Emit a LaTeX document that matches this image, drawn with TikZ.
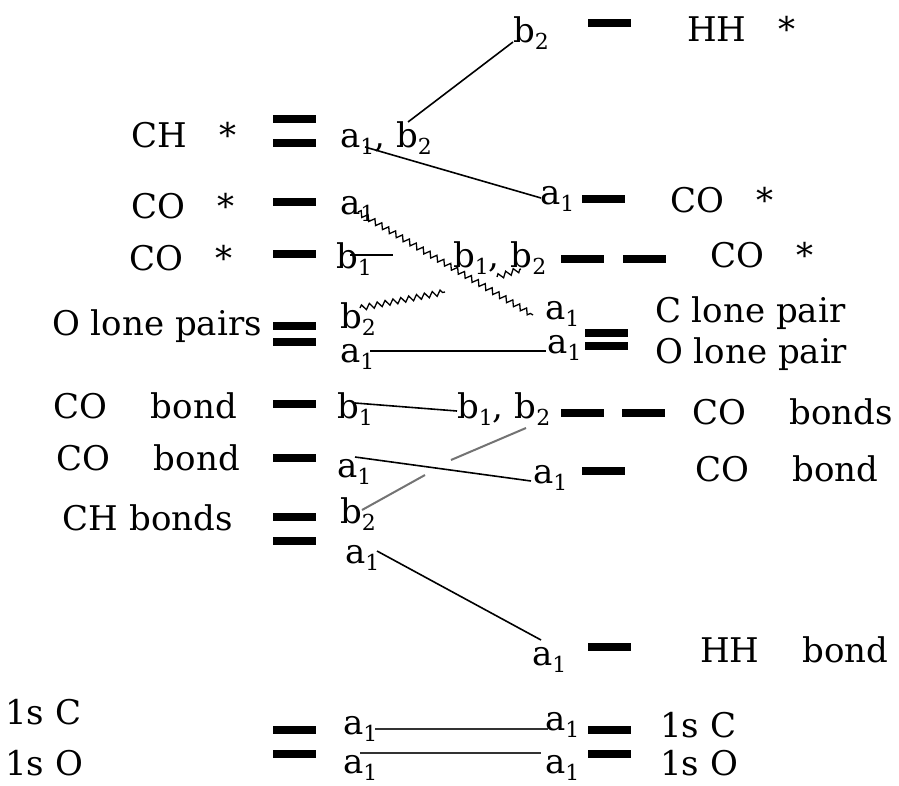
\documentclass[tikz,border=0pt]{standalone}
\usepackage{fontspec}
\setmainfont{DejaVu Serif}
\usetikzlibrary{decorations.pathmorphing}
\newcommand{\irr}[2]{#1\raisebox{-7pt}{\fontsize{22}{22}\selectfont #2}}

\begin{document}
\begin{tikzpicture}[x=1pt, y=-1pt,
  lvl/.style={fill=black, inner sep=0pt, minimum width=43pt, minimum height=8pt},
  sym/.style={inner sep=0pt, anchor=base west, font=\fontsize{34}{40}\selectfont},
  lbl/.style={inner sep=0pt, font=\fontsize{34}{40}\selectfont},
  ln/.style={line width=1.6pt},
  sln/.style={line width=1.6pt, black!80},
  zz/.style={line width=1.3pt, decorate,
             decoration={zigzag, segment length=8pt, amplitude=2.8pt}},
  gln/.style={line width=2pt, black!55},
]
\path[use as bounding box, fill=white] (0,0) rectangle (899,785);

% Left levels
\node[lvl] (lCHs1) at (294.5,118.5) {};
\node[lvl] (lCHs2) at (294.5,143) {};
\node[lvl] (lCOs1) at (294.5,201.5) {};
\node[lvl] (lCOs2) at (294.5,254) {};
\node[lvl] (lLP1)  at (294.5,325.5) {};
\node[lvl] (lLP2)  at (294.5,341.5) {};
\node[lvl] (lB1)   at (294.5,404) {};
\node[lvl] (lB2)   at (294.5,458) {};
\node[lvl] (lCHb1) at (294.5,516.5) {};
\node[lvl] (lCHb2) at (294.5,540.5) {};
\node[lvl] (l1sC)  at (294.5,730) {};
\node[lvl] (l1sO)  at (294.5,753.5) {};

% Right levels
\node[lvl] (rHHs)  at (609.5,23) {};
\node[lvl] (rCOs1) at (603.5,199) {};
\node[lvl] (rCOs2) at (582.5,258.5) {};
\node[lvl] (rCOs3) at (644,258.5) {};
\node[lvl] (rLP1)  at (606.5,333) {};
\node[lvl] (rLP2)  at (606.5,346) {};
\node[lvl] (rB1)   at (582,413) {};
\node[lvl] (rB2)   at (643.5,413) {};
\node[lvl] (rB3)   at (603.5,471) {};
\node[lvl] (rHHb)  at (609,647) {};
\node[lvl] (r1sC)  at (609,730) {};
\node[lvl] (r1sO)  at (609,754) {};

% Left names
\node[lbl, anchor=base east] (nCHs)  at (237,147) {CH~~~*};
\node[lbl, anchor=base east] (nCOs1) at (235,218) {CO~~~*};
\node[lbl, anchor=base east] (nCOs2) at (233,270) {CO~~~*};
\node[lbl, anchor=base east] (nLP)   at (262,335) {O lone pairs};
\node[lbl, anchor=base east] (nB1)   at (237,418) {CO~~~~bond};
\node[lbl, anchor=base east] (nB2)   at (240,470) {CO~~~~bond};
\node[lbl, anchor=base east] (nCHb)  at (233,530) {CH bonds};
\node[lbl, anchor=base west] (n1sC)  at (5,724) {1s C};
\node[lbl, anchor=base west] (n1sO)  at (5,775) {1s O};

% Right names
\node[lbl, anchor=base west] (mHHs)  at (687,41)  {HH~~~*};
\node[lbl, anchor=base west] (mCOs1) at (670,212) {CO~~~*};
\node[lbl, anchor=base west] (mCOs2) at (710,267) {CO~~~*};
\node[lbl, anchor=base west] (mLPc)  at (655,322) {C lone pair};
\node[lbl, anchor=base west] (mLPo)  at (655,363) {O lone pair};
\node[lbl, anchor=base west] (mB1)   at (692,424) {CO~~~~bonds};
\node[lbl, anchor=base west] (mB2)   at (695,481) {CO~~~~bond};
\node[lbl, anchor=base west] (mHHb)  at (700,662) {HH~~~~bond};
\node[lbl, anchor=base west] (m1sC)  at (660,737) {1s C};
\node[lbl, anchor=base west] (m1sO)  at (660,775) {1s O};

% Left symmetry labels
\node[sym] (sCHs)  at (340,147) {\irr{a}{1}, \irr{b}{2}};
\node[sym] (sCOs1) at (340,214) {\irr{a}{1}};
\node[sym] (sCOs2) at (336,268) {\irr{b}{1}};
\node[sym] (sLPb)  at (340,328) {\irr{b}{2}};
\node[sym] (sLPa)  at (340,362) {\irr{a}{1}};
\node[sym] (sB1)   at (337,418) {\irr{b}{1}};
\node[sym] (sB2)   at (337,477) {\irr{a}{1}};
\node[sym] (sCHbb) at (340,523) {\irr{b}{2}};
\node[sym] (sCHba) at (345,563) {\irr{a}{1}};
\node[sym] (s1sC)  at (343,734) {\irr{a}{1}};
\node[sym] (s1sO)  at (343,773) {\irr{a}{1}};

% Right symmetry labels
\node[sym] (tHHs)  at (513,42)  {\irr{b}{2}};
\node[sym] (tCOs1) at (540,204) {\irr{a}{1}};
\node[sym] (tCOs2) at (453,267) {\irr{b}{1}, \irr{b}{2}};
\node[sym] (tLPc)  at (545,319) {\irr{a}{1}};
\node[sym] (tLPo)  at (547,353) {\irr{a}{1}};
\node[sym] (tB1)   at (457,418) {\irr{b}{1}, \irr{b}{2}};
\node[sym] (tB2)   at (533,483) {\irr{a}{1}};
\node[sym] (tHHb)  at (532,665) {\irr{a}{1}};
\node[sym] (t1sC)  at (545,730) {\irr{a}{1}};
\node[sym] (t1sO)  at (545,773) {\irr{a}{1}};

% Connector ends
\coordinate (cCHb)   at (408,122);
\coordinate (cCHa)   at (365,147);
\coordinate (cCOa1)  at (541,198);
\coordinate (cCOa)   at (358,212);
\coordinate (cLPc)   at (533,315);
\coordinate (cLPb)   at (360,308);
\coordinate (cLPend) at (445,292);
\coordinate (cWa)    at (497,277);
\coordinate (cWb)    at (521,269);
\coordinate (cCOb)   at (350,255);
\coordinate (cCObe)  at (393,255);
\coordinate (cLPa)   at (370,351);
\coordinate (cLPo)   at (546,351);
\coordinate (cB1)    at (355,403);
\coordinate (cB1r)   at (457,411);
\coordinate (cB2)    at (355,457);
\coordinate (cB2r)   at (531,481);
\coordinate (cCHbb)  at (362,510);
\coordinate (cGapA)  at (425,475);
\coordinate (cGapB)  at (451,460);
\coordinate (cB1b)   at (526,428);
\coordinate (cCHba)  at (377,551);
\coordinate (cHHb)   at (541,640);
\coordinate (c1sC)   at (375,729);
\coordinate (c1sCr)  at (548,729);
\coordinate (c1sO)   at (360,753);
\coordinate (c1sOr)  at (541,753);

% Correlation lines
\draw[ln] (tHHs.base west) -- (cCHb);
\draw[ln] (cCHa) -- (cCOa1);
\draw[zz] (cCOa) -- (cLPc);
\draw[zz] (cLPb) -- (cLPend);
\draw[zz] (cWa) -- (cWb);
\draw[ln] (cCOb) -- (cCObe);
\draw[ln] (cLPa) -- (cLPo);
\draw[ln] (cB1) -- (cB1r);
\draw[ln] (cB2) -- (cB2r);
\draw[gln] (cCHbb) -- (cGapA);
\draw[gln] (cGapB) -- (cB1b);
\draw[ln] (cCHba) -- (cHHb);
\draw[sln] (c1sC) -- (c1sCr);
\draw[sln] (c1sO) -- (c1sOr);
\end{tikzpicture}
\end{document}
